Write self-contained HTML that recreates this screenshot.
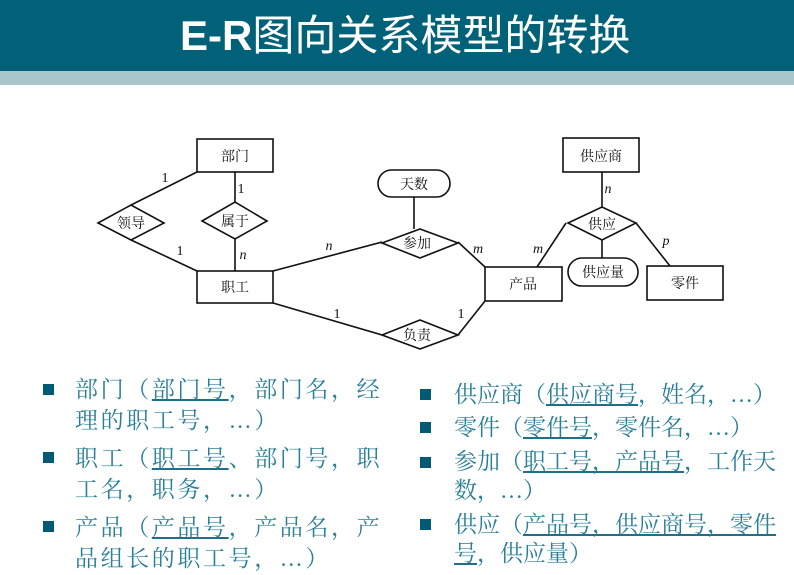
<!DOCTYPE html>
<html><head><meta charset="utf-8"><style>
body{margin:0;width:794px;height:575px;background:#fff;position:relative;overflow:hidden;font-family:"Liberation Serif","Noto Serif CJK SC",serif}
.hd{position:absolute;left:0;top:0;width:794px;height:71px;background:#006179}
.hd2{position:absolute;left:0;top:71px;width:794px;height:14px;background:#a9c6cc}
.title{position:absolute;left:180px;top:7px;color:#fff;font-size:42px;line-height:58px;font-family:"Liberation Sans","Noto Sans CJK SC",sans-serif;white-space:nowrap}
.t{position:absolute;color:#2a7f98;font-size:23px;line-height:30px;white-space:nowrap}
.l{letter-spacing:2.6px}
.b{position:absolute;width:11px;height:11px;background:#005a73}
u{text-decoration-color:#1f6f88}
svg text{font-family:"Liberation Serif","Noto Serif CJK SC",serif}
</style></head><body>
<div class="hd"></div><div class="hd2"></div>
<div class="title"><b>E-R</b>图向关系模型的转换</div>
<svg width="794" height="575" style="position:absolute;left:0;top:0" stroke="#111" stroke-width="1.6" fill="none">
<rect x="197" y="139" width="76" height="33" fill="#fff"/>
<rect x="197" y="271" width="76" height="32" fill="#fff"/>
<rect x="485" y="267" width="77" height="34" fill="#fff"/>
<rect x="563" y="138" width="76" height="34" fill="#fff"/>
<rect x="647" y="266" width="76" height="34" fill="#fff"/>
<rect x="378" y="170" width="72" height="27" rx="13.5" fill="#fff"/>
<rect x="568" y="258" width="70" height="28" rx="14" fill="#fff"/>
<polyline points="197,172 131,205"/><polyline points="131,240 197,271"/>
<polyline points="235,172 235,202"/><polyline points="235,239 235,271"/>
<polyline points="273,271 382,242"/><polyline points="273,303 382,335"/>
<polyline points="414,197 414,229"/>
<polyline points="458,242 485,267"/><polyline points="458,335 485,301"/>
<polyline points="602,172 602,207"/><polyline points="602,240 602,258"/>
<polyline points="566,223 537,267"/><polyline points="636,223 670,266"/>
<polygon points="98,223 131,205 164,223 131,240" fill="#fff"/>
<polygon points="202,221 235,202 267,221 235,239" fill="#fff"/>
<polygon points="382,243 420,229 458,243 420,258" fill="#fff"/>
<polygon points="382,335 420,320 458,335 420,349" fill="#fff"/>
<polygon points="568,223 602,207 636,223 602,240" fill="#fff"/>
<g fill="#111" stroke="none" font-size="14" text-anchor="middle">
<text x="235" y="161">部门</text><text x="235" y="292">职工</text>
<text x="523" y="289">产品</text><text x="601" y="161">供应商</text>
<text x="685" y="288">零件</text><text x="414" y="189">天数</text>
<text x="603" y="277">供应量</text><text x="131" y="228">领导</text>
<text x="235" y="226">属于</text><text x="417" y="248">参加</text>
<text x="417" y="340">负责</text><text x="602" y="229">供应</text>
<g font-size="14"><text x="165" y="182">1</text><text x="241" y="193">1</text>
<text x="180" y="255">1</text><text x="337" y="318">1</text><text x="461" y="318">1</text>
<g font-style="italic"><text x="243" y="259">n</text><text x="329" y="250">n</text>
<text x="478" y="253">m</text><text x="538" y="253">m</text>
<text x="608" y="193">n</text><text x="666" y="245">p</text></g></g></g>
</svg>
<div class="b" style="left:43px;top:384px"></div>
<div class="b" style="left:43px;top:452px"></div>
<div class="b" style="left:43px;top:521px"></div>
<div class="t l" style="left:75px;top:375px">部门（<u>部门号</u>，部门名，经</div>
<div class="t l" style="left:75px;top:406px">理的职工号，…）</div>
<div class="t l" style="left:75px;top:444px">职工（<u>职工号</u>、部门号，职</div>
<div class="t l" style="left:75px;top:475px">工名，职务，…）</div>
<div class="t l" style="left:75px;top:513px">产品（<u>产品号</u>，产品名，产</div>
<div class="t l" style="left:75px;top:544px">品组长的职工号，…）</div>
<div class="b" style="left:420px;top:389px"></div>
<div class="b" style="left:420px;top:422px"></div>
<div class="b" style="left:420px;top:457px"></div>
<div class="b" style="left:420px;top:519px"></div>
<div class="t" style="left:454px;top:380px">供应商（<u>供应商号</u>，姓名，…）</div>
<div class="t" style="left:454px;top:413px">零件（<u>零件号</u>，零件名，…）</div>
<div class="t" style="left:454px;top:447px">参加（<u>职工号，产品号</u>，工作天</div>
<div class="t" style="left:454px;top:476px">数，…）</div>
<div class="t" style="left:454px;top:510px">供应（<u>产品号，供应商号，零件</u></div>
<div class="t" style="left:454px;top:539px"><u>号</u>，供应量）</div>
</body></html>
